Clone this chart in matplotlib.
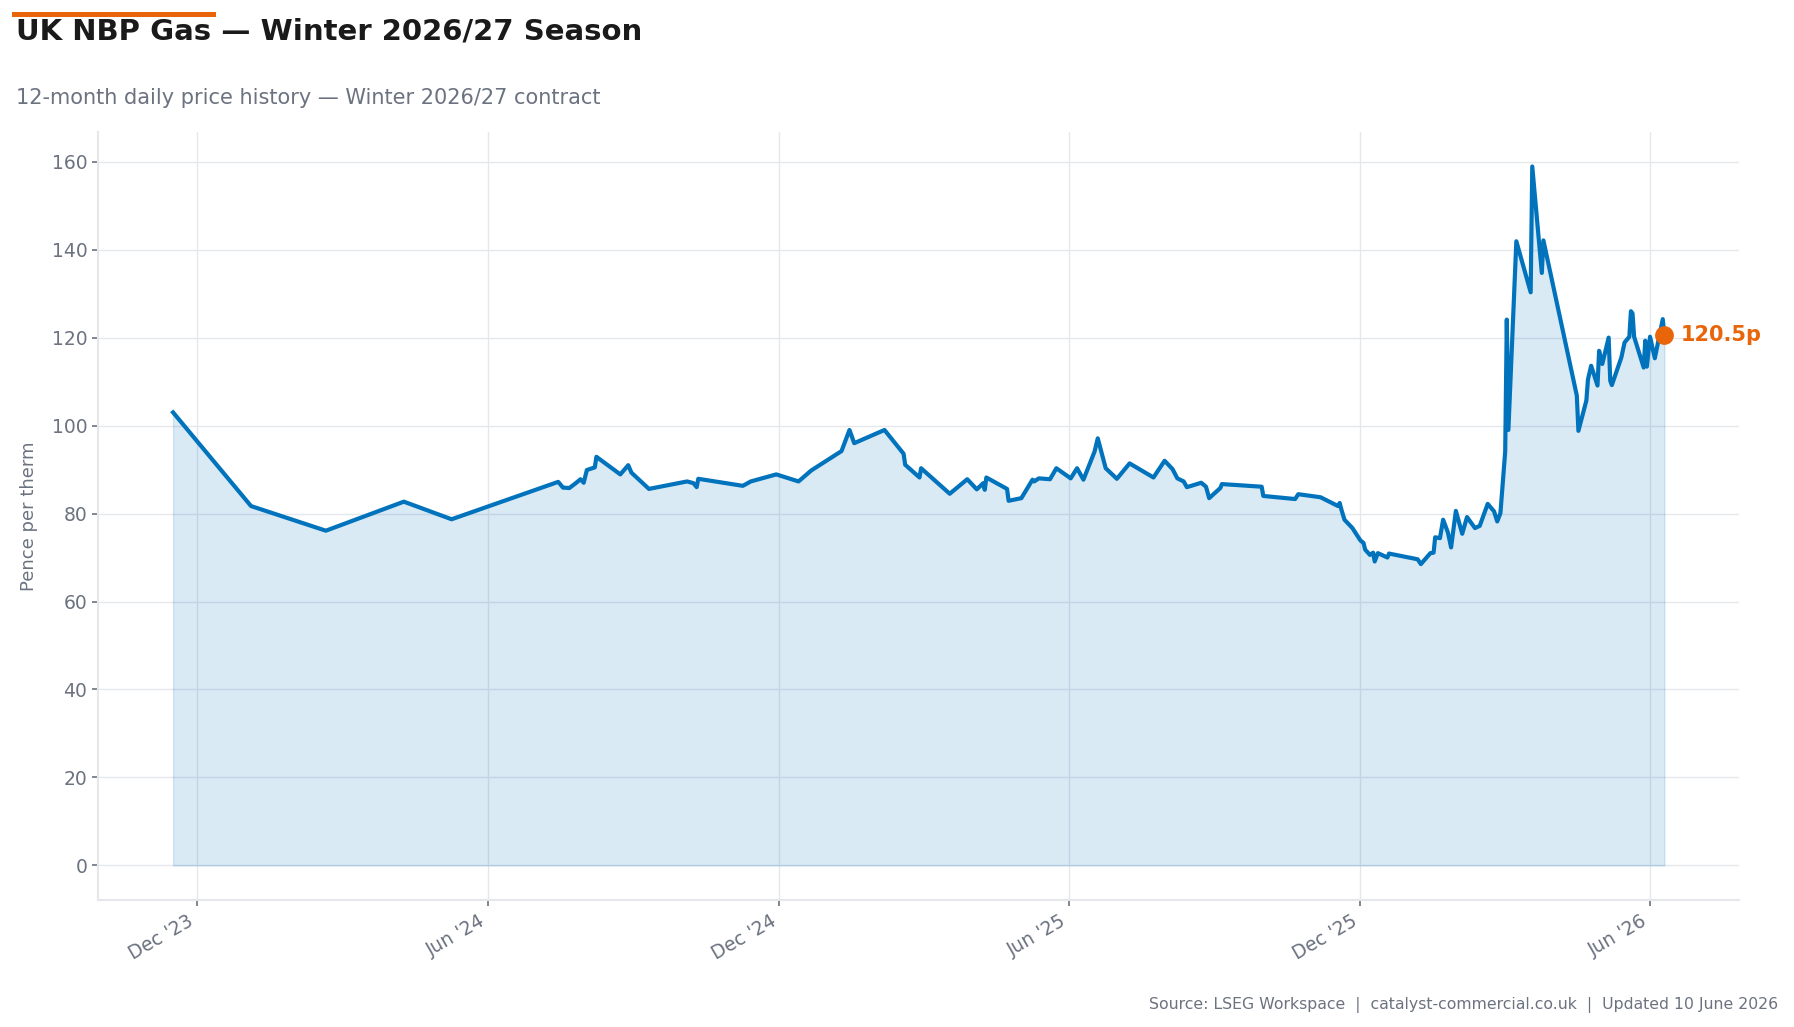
import pandas as pd
import matplotlib
matplotlib.use("Agg")
import matplotlib.pyplot as plt
import matplotlib.dates as mdates
from matplotlib.patches import Rectangle

# price history (pence per therm)
dates = [
    "2023-11-16", "2024-01-04", "2024-02-20", "2024-04-09", "2024-05-09",
    "2024-07-15", "2024-07-18", "2024-07-22", "2024-07-26", "2024-07-29",
    "2024-07-31", "2024-08-02", "2024-08-07", "2024-08-08", "2024-08-23",
    "2024-08-28", "2024-08-30", "2024-09-10", "2024-10-04", "2024-10-08",
    "2024-10-10", "2024-10-11", "2024-11-08", "2024-11-13", "2024-11-29",
    "2024-12-13", "2024-12-21", "2025-01-09", "2025-01-14", "2025-01-17",
    "2025-02-05", "2025-02-17", "2025-02-18", "2025-02-27", "2025-02-28",
    "2025-03-18", "2025-03-29", "2025-04-04", "2025-04-08", "2025-04-09",
    "2025-04-10", "2025-04-23", "2025-04-24", "2025-05-02", "2025-05-09",
    "2025-05-10", "2025-05-13", "2025-05-20", "2025-05-24", "2025-06-02",
    "2025-06-06", "2025-06-10", "2025-06-17", "2025-06-19", "2025-06-24",
    "2025-07-01", "2025-07-09", "2025-07-24", "2025-07-31", "2025-08-05",
    "2025-08-08", "2025-08-12", "2025-08-14", "2025-08-23", "2025-08-26",
    "2025-08-28", "2025-09-04", "2025-09-05", "2025-09-30", "2025-10-01",
    "2025-10-21", "2025-10-23", "2025-11-06", "2025-11-17", "2025-11-18",
    "2025-11-19", "2025-11-21", "2025-11-26", "2025-12-01", "2025-12-03",
    "2025-12-04", "2025-12-07", "2025-12-09", "2025-12-10", "2025-12-12",
    "2025-12-18", "2025-12-19", "2026-01-06", "2026-01-08", "2026-01-14",
    "2026-01-16", "2026-01-17", "2026-01-20", "2026-01-22", "2026-01-25",
    "2026-01-27", "2026-01-30", "2026-02-03", "2026-02-06", "2026-02-11",
    "2026-02-14", "2026-02-19", "2026-02-23", "2026-02-25", "2026-02-27",
    "2026-03-02", "2026-03-03", "2026-03-04", "2026-03-09", "2026-03-18",
    "2026-03-19", "2026-03-25", "2026-03-26", "2026-04-16", "2026-04-17",
    "2026-04-22", "2026-04-23", "2026-04-25", "2026-04-29", "2026-04-30",
    "2026-05-02", "2026-05-06", "2026-05-07", "2026-05-08", "2026-05-14",
    "2026-05-16", "2026-05-19", "2026-05-20", "2026-05-21", "2026-05-22",
    "2026-05-28", "2026-05-29", "2026-05-30", "2026-06-01", "2026-06-04",
    "2026-06-09", "2026-06-10",
]
prices = [
    103.0, 81.7, 76.1, 82.7, 78.7,
    87.2, 85.9, 85.8, 86.9, 87.8,
    87.0, 89.9, 90.5, 92.9, 88.9,
    91.0, 89.3, 85.6, 87.3, 86.9,
    86.0, 87.9, 86.3, 87.3, 88.9,
    87.3, 89.8, 94.2, 99.0, 96.0,
    99.0, 93.6, 91.1, 88.2, 90.3,
    84.5, 87.8, 85.5, 86.9, 85.4,
    88.2, 85.6, 82.9, 83.5, 87.7,
    87.3, 88.0, 87.8, 90.3, 88.0,
    90.3, 87.7, 94.1, 97.1, 90.3,
    87.9, 91.4, 88.2, 92.0, 90.1,
    88.0, 87.3, 86.0, 87.0, 86.1,
    83.5, 85.8, 86.7, 86.1, 84.0,
    83.3, 84.4, 83.7, 81.7, 82.4,
    81.0, 78.6, 76.7, 73.9, 73.3,
    71.8, 70.6, 71.1, 69.1, 71.0,
    70.0, 70.9, 69.6, 68.5, 71.0,
    71.1, 74.6, 74.4, 78.6, 75.7,
    72.3, 80.6, 75.4, 79.2, 76.7,
    77.2, 82.2, 80.5, 78.2, 80.1,
    94.1, 124.1, 99.0, 141.9, 130.3,
    158.9, 134.7, 142.1, 106.8, 98.8,
    105.7, 110.5, 113.6, 109.1, 117.0,
    114.0, 120.0, 110.2, 109.2, 115.5,
    118.9, 120.2, 126.0, 125.5, 120.2,
    113.2, 119.3, 113.4, 120.2, 115.3,
    124.2, 120.5,
]

title = "UK NBP Gas \u2014 Winter 2026/27 Season"
subtitle = "12-month daily price history \u2014 Winter 2026/27 contract"
ylabel = "Pence per therm"
source = "Source: LSEG Workspace  |  catalyst-commercial.co.uk  |  Updated 10 June 2026"

blue = "#0173BD"
orange = "#E8650A"
grey = "#6B7280"
light = "#E5E7EB"

x = pd.to_datetime(dates)

fig = plt.figure(figsize=(17.94, 10.27), dpi=100)
ax = fig.add_axes([0.0549, 0.1233, 0.9144, 0.7486])

ax.fill_between(x, prices, 0, color=blue, alpha=0.15, linewidth=1)
ax.plot(x, prices, color=blue, linewidth=3, zorder=3)

# latest value
ax.plot(x[-1], prices[-1], "o", color=orange, markersize=12.5, zorder=4)
ax.annotate(f"{prices[-1]:.1f}p", (x[-1], prices[-1]), xytext=(12, 0),
            textcoords="offset points", va="center", ha="left",
            color=orange, fontsize=15, fontweight="bold")

ax.xaxis.set_major_locator(mdates.MonthLocator(bymonth=[6, 12]))
ax.xaxis.set_major_formatter(mdates.DateFormatter("%b '%y"))
plt.setp(ax.get_xticklabels(), rotation=30, ha="right")

ax.set_yticks(range(0, 161, 20))
ax.grid(True, color=light, linewidth=1)
ax.set_axisbelow(True)
for s in ["top", "right"]:
    ax.spines[s].set_visible(False)
for s in ["left", "bottom"]:
    ax.spines[s].set_color(light)
    ax.spines[s].set_linewidth(1.5)
ax.tick_params(colors=grey, labelsize=13.5, length=4.5, width=1.2)
ax.set_ylabel(ylabel, color=grey, fontsize=13, labelpad=10)

fig.add_artist(Rectangle((0.0067, 0.9832), 0.1137, 0.0052,
                         transform=fig.transFigure, color=orange, lw=0))
fig.text(0.0087, 0.9615, title, fontsize=21, fontweight="bold",
         color="#1A1A1A", va="baseline")
fig.text(0.0087, 0.899, subtitle, fontsize=15, color=grey, va="baseline")
fig.text(0.991, 0.018, source, fontsize=11.3, color=grey, ha="right", va="baseline")

fig.savefig("out.png", dpi=100)
